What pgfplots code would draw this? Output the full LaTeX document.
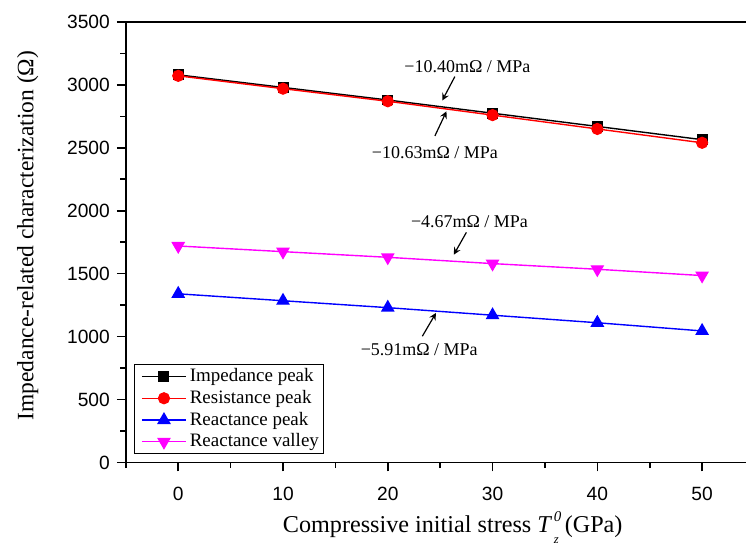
\documentclass[border=0pt]{standalone}
\usepackage{pgfplots}
\pgfplotsset{compat=1.18}
\usepackage{fontspec}
\setmainfont{Liberation Serif}
\newfontfamily\arialfont{Liberation Sans}
\definecolor{mymag}{RGB}{255,0,255}
\newcommand{\Tsym}{\textit{T}\kern0.8pt\rlap{\raisebox{5.6pt}{\fontsize{7.5}{7.5}\selectfont\textit{0}}}\raisebox{-5.2pt}{\fontsize{6.3}{6.3}\selectfont\textit{z}}}
\begin{document}
\begin{tikzpicture}
\begin{axis}[
  scale only axis=true,
  width=310.5pt, height=220.5pt,
  xmin=-5, xmax=54.2, ymin=0, ymax=3500,
  axis x line*=box, axis y line*=left,
  axis line style={line width=0.9pt},
  xtick={0,10,...,50}, minor xtick={-5,5,...,45},
  ytick={0,500,...,3500}, minor ytick={250,750,...,3250},
  xtick pos=left, ytick pos=left,
  tick align=outside,
  major tick length=4.5pt, minor tick length=2.8pt,
  every tick/.style={black, line width=0.8pt},
  /pgf/number format/assume math mode=true,
  /pgf/number format/1000 sep={},
  ticklabel style={font=\arialfont\fontsize{9.6}{11}\selectfont},
  xticklabel style={yshift=-4.5pt},
  xlabel={Compressive initial stress \Tsym{} (GPa)},
  ylabel={Impedance-related characterization (Ω)},
  xlabel style={font=\fontsize{12.1}{13}\selectfont, at={(axis description cs:0.527,-0.1474)},anchor=center},
  ylabel style={font=\fontsize{11.75}{13}\selectfont, at={(axis description cs:-0.158,0.515)},anchor=center},
  clip=false,
  legend style={at={(0.0145,0.0204)},anchor=south west, draw=black, line width=0.5pt,
    font=\fontsize{9.5}{11}\selectfont, row sep=1.6pt, column sep=1pt,
    inner xsep=2pt, inner ysep=1.2pt, outer sep=0pt,
    nodes={inner xsep=0.5pt, inner ysep=0.6pt},
    cells={anchor=west}},
  legend image code/.code={\path (-0.04cm,0cm); \draw[mark repeat=2,mark phase=2] plot coordinates {(0cm,0cm)(0.39cm,0cm)(0.78cm,0cm)};},
]
\addplot[black, line width=0.7pt, mark=square*, mark size=2.4pt, mark options={solid,fill=black}]
  coordinates {(0,3080)(10,2980)(20,2880)(30,2775)(40,2670)(50,2565)};
\addlegendentry{Impedance peak}
\addplot[red, line width=0.7pt, mark=*, mark size=2.7pt, mark options={solid,fill=red}]
  coordinates {(0,3072)(10,2970)(20,2870)(30,2760)(40,2650)(50,2540)};
\addlegendentry{Resistance peak}
\addplot[blue, line width=0.7pt, mark=triangle*, mark size=3.3pt, mark options={solid,fill=blue}]
  coordinates {(0,1340)(10,1285)(20,1230)(30,1170)(40,1110)(50,1045)};
\addlegendentry{Reactance peak}
\addplot[mymag, line width=0.7pt, mark=triangle*, mark size=3.3pt, mark options={solid,fill=mymag,rotate=180}]
  coordinates {(0,1720)(10,1675)(20,1630)(30,1580)(40,1535)(50,1485)};
\addlegendentry{Reactance valley}

\node[font=\fontsize{9}{10}\selectfont] at (axis cs:27.6,3146) {−10.40mΩ / MPa};
\draw[-stealth, line width=0.6pt] (axis cs:26.4,3066) -- (axis cs:25.2,2876);
\node[font=\fontsize{9}{10}\selectfont] at (axis cs:24.5,2465) {−10.63mΩ / MPa};
\draw[-stealth, line width=0.6pt] (axis cs:24.5,2595) -- (axis cs:25.6,2790);
\node[font=\fontsize{9}{10}\selectfont] at (axis cs:27.8,1915) {−4.67mΩ / MPa};
\draw[-stealth, line width=0.6pt] (axis cs:27.5,1828) -- (axis cs:26.3,1651);
\node[font=\fontsize{9}{10}\selectfont] at (axis cs:23.0,900) {−5.91mΩ / MPa};
\draw[-stealth, line width=0.6pt] (axis cs:23.3,1003) -- (axis cs:24.6,1188);
\end{axis}
\path (current axis.south west) ++(-63pt,-41pt);
\path (current axis.north east) ++(0pt,11pt);
\end{tikzpicture}
\end{document}
